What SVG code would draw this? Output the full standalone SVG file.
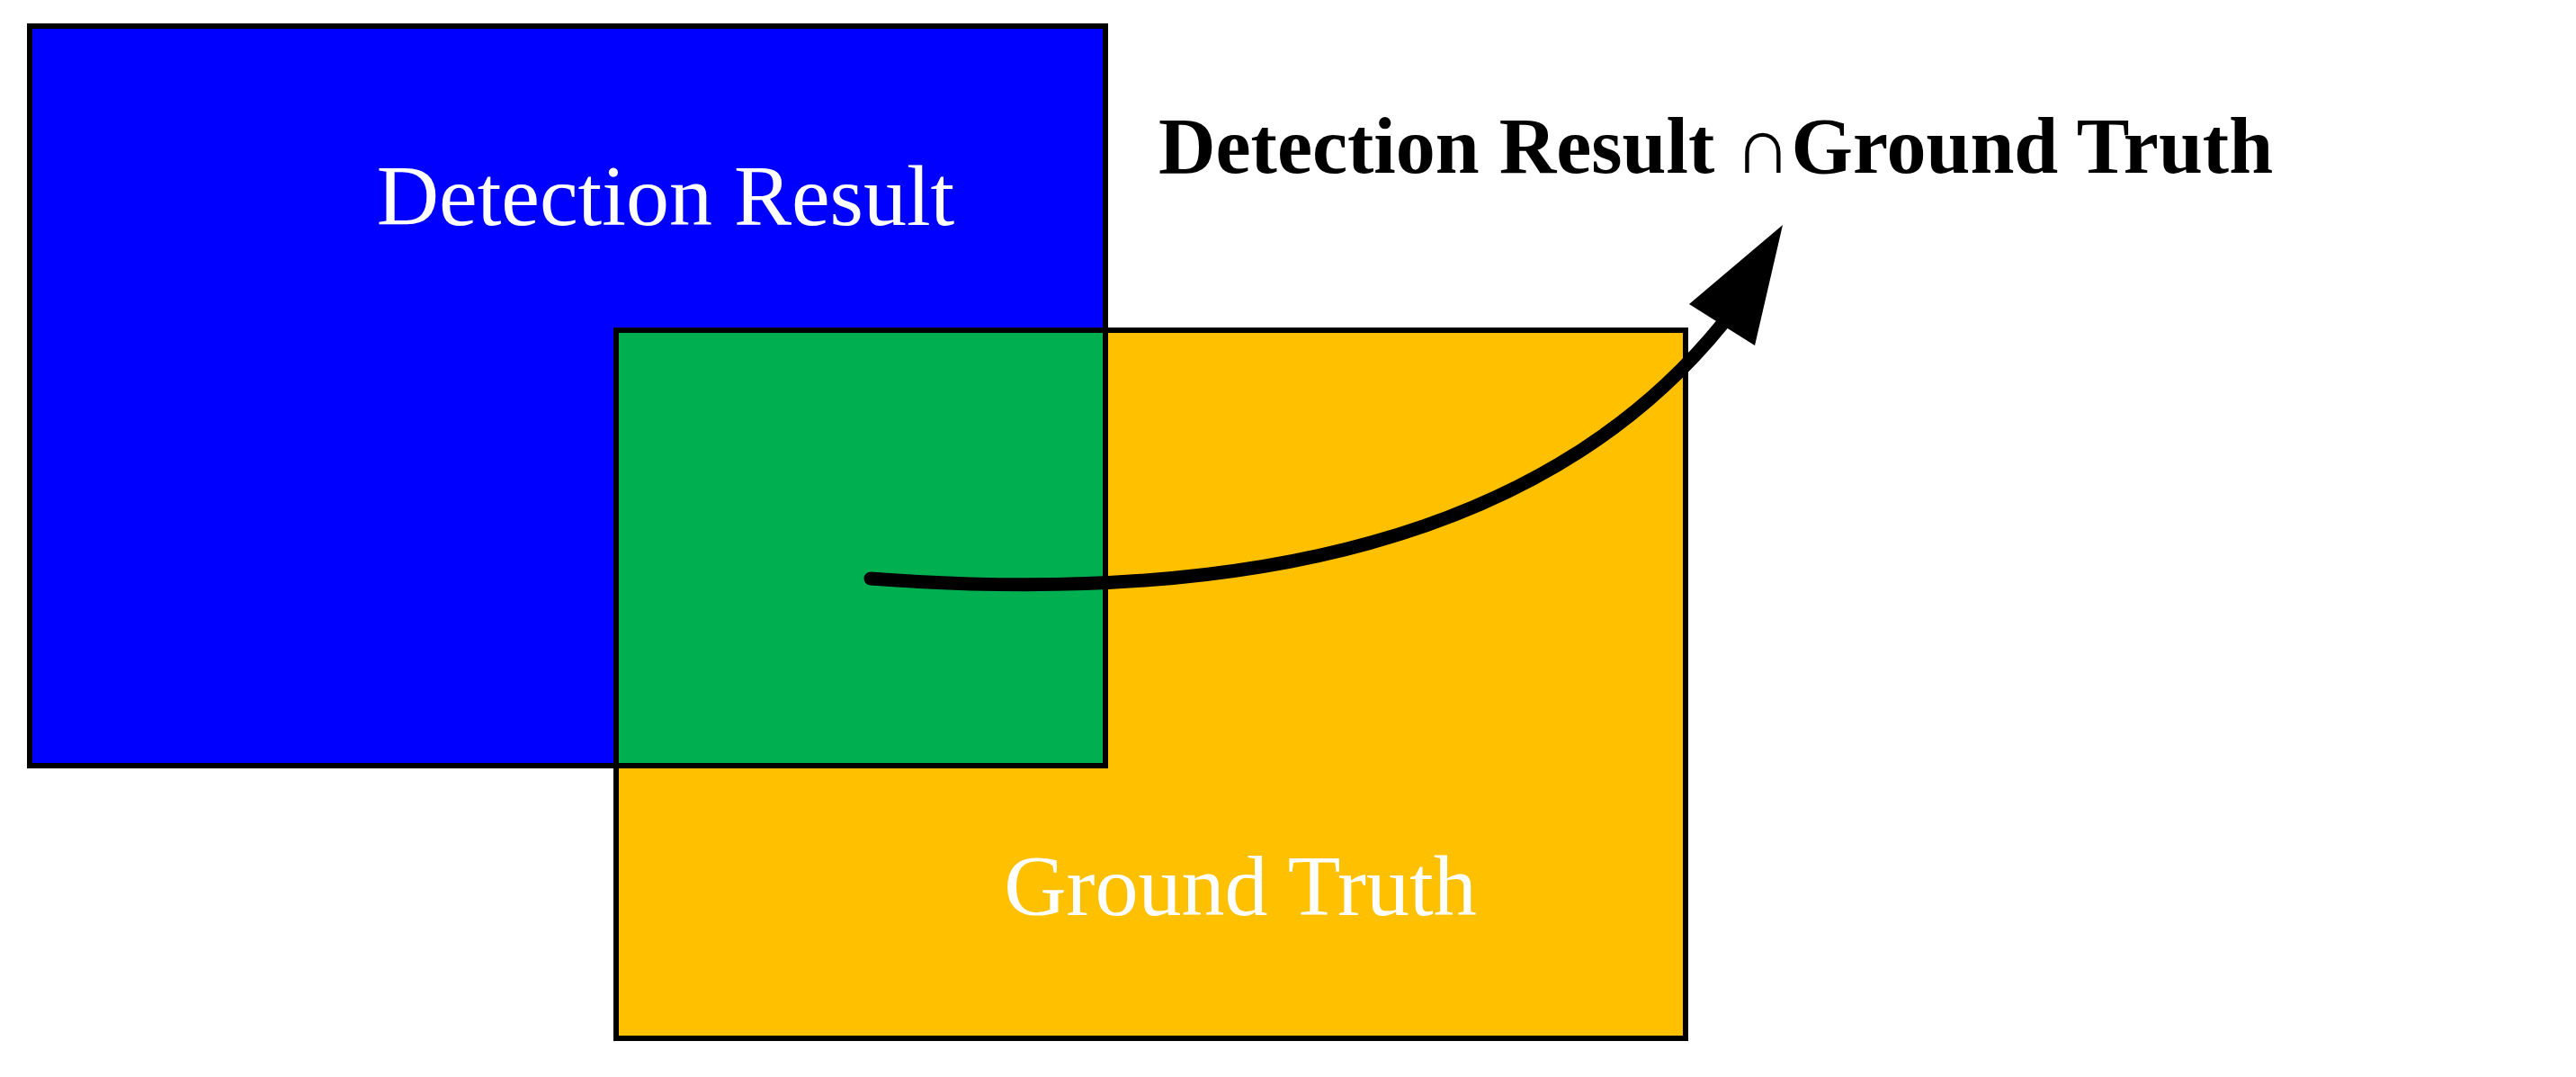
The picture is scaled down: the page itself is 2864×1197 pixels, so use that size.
<svg xmlns="http://www.w3.org/2000/svg" width="2864" height="1197" viewBox="0 0 2864 1197">
<style>
.box{stroke:#000;stroke-width:6}
.lbl{font-family:"Liberation Serif",serif;fill:#fff;font-size:96px}
</style>
<rect width="2864" height="1197" fill="#fff"/>
<g id="detection"><rect class="box" x="33" y="29" width="1196" height="822" fill="#0000ff"/><text class="lbl" x="740" y="250" text-anchor="middle">Detection Result</text></g>
<g id="groundtruth"><rect class="box" x="685" y="367" width="1189" height="787" fill="#ffc000"/><text class="lbl" x="1379" y="1017" text-anchor="middle">Ground Truth</text></g>
<g id="intersection"><rect class="box" x="685" y="367" width="544" height="484" fill="#00b050"/></g>
<g id="connectors"><path d="M968 643 Q1644 694 1915 360" fill="none" stroke="#000" stroke-width="15" stroke-linecap="round"/><polygon points="1982,250 1878,338 1951,384" fill="#000"/></g>
<g id="title"><text x="1288" y="192" font-family="'Liberation Serif','DejaVu Serif',serif" font-weight="bold" font-size="88">Detection Result ∩Ground Truth</text></g>
</svg>
